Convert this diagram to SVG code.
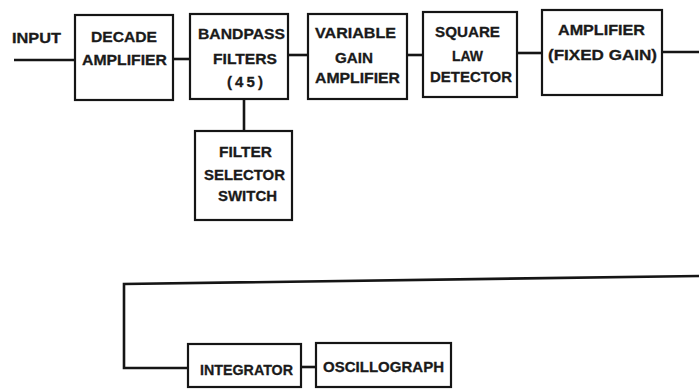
<svg xmlns="http://www.w3.org/2000/svg" width="699" height="389" viewBox="0 0 699 389">
<style>
.box{fill:none;stroke:#151515;stroke-width:2.2}
.ln{fill:none;stroke:#151515;stroke-width:2.6}
text{font-family:"Liberation Sans",Arial,sans-serif;font-weight:bold;font-size:15px;fill:#1a1a1a;stroke:#1a1a1a;stroke-width:0.3}
</style>
<rect width="699" height="389" fill="#ffffff"/>
<g id="connectors">
<line class="ln" x1="14" y1="60" x2="75" y2="60"/>
<line class="ln" x1="173" y1="59" x2="190" y2="59"/>
<line class="ln" x1="288" y1="55" x2="308" y2="55"/>
<line class="ln" x1="407" y1="55" x2="423" y2="55"/>
<line class="ln" x1="517" y1="53" x2="542" y2="53"/>
<line class="ln" x1="662" y1="52" x2="699" y2="52"/>
<line class="ln" x1="244" y1="99" x2="244" y2="131"/>
<polyline class="ln" points="699,276 124,284 124,368 188,368"/>
<line class="ln" x1="301" y1="367" x2="316" y2="367"/>
</g>
<g id="input"><text x="12" y="43" textLength="49" lengthAdjust="spacingAndGlyphs">INPUT</text></g>
<g id="decade">
<rect class="box" x="75" y="15" width="98" height="85"/>
<text x="91" y="42" textLength="66" lengthAdjust="spacingAndGlyphs">DECADE</text>
<text x="82" y="65" textLength="85" lengthAdjust="spacingAndGlyphs">AMPLIFIER</text>
</g>
<g id="bandpass">
<rect class="box" x="190" y="14" width="98" height="85"/>
<text x="198" y="39" textLength="87" lengthAdjust="spacingAndGlyphs">BANDPASS</text>
<text x="213" y="64" textLength="64" lengthAdjust="spacingAndGlyphs">FILTERS</text>
<text x="227" y="87" textLength="36">(45)</text>
</g>
<g id="variable">
<rect class="box" x="308" y="14" width="99" height="85"/>
<text x="315" y="38" textLength="81" lengthAdjust="spacingAndGlyphs">VARIABLE</text>
<text x="335" y="63" textLength="38" lengthAdjust="spacingAndGlyphs">GAIN</text>
<text x="315" y="83" textLength="85" lengthAdjust="spacingAndGlyphs">AMPLIFIER</text>
</g>
<g id="square">
<rect class="box" x="423" y="12" width="94" height="85"/>
<text x="435" y="37" textLength="65" lengthAdjust="spacingAndGlyphs">SQUARE</text>
<text x="452" y="61" textLength="31" lengthAdjust="spacingAndGlyphs">LAW</text>
<text x="430" y="82" textLength="82" lengthAdjust="spacingAndGlyphs">DETECTOR</text>
</g>
<g id="ampfixed">
<rect class="box" x="542" y="10" width="120" height="85"/>
<text x="558" y="35" textLength="87" lengthAdjust="spacingAndGlyphs">AMPLIFIER</text>
<text x="548" y="60" textLength="109" lengthAdjust="spacingAndGlyphs">(FIXED GAIN)</text>
</g>
<g id="selector">
<rect class="box" x="195" y="131" width="97" height="89"/>
<text x="219" y="157" textLength="53" lengthAdjust="spacingAndGlyphs">FILTER</text>
<text x="204" y="180" textLength="81" lengthAdjust="spacingAndGlyphs">SELECTOR</text>
<text x="218" y="201" textLength="59" lengthAdjust="spacingAndGlyphs">SWITCH</text>
</g>
<g id="integrator">
<rect class="box" x="188" y="344" width="113" height="43"/>
<text x="200" y="375" textLength="93" lengthAdjust="spacingAndGlyphs">INTEGRATOR</text>
</g>
<g id="oscillograph">
<rect class="box" x="316" y="343" width="135" height="44"/>
<text x="323" y="372" textLength="121" lengthAdjust="spacingAndGlyphs">OSCILLOGRAPH</text>
</g>
</svg>
